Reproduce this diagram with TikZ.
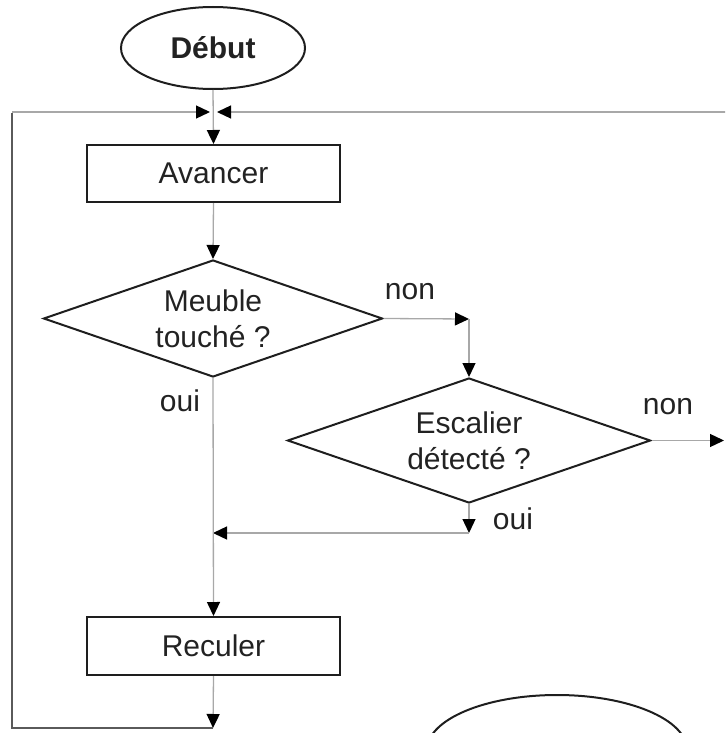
\documentclass[tikz,border=0pt]{standalone}
\usepackage{fontspec}
\setmainfont{Liberation Sans}
\usetikzlibrary{arrows.meta,shapes.geometric}
\definecolor{conn}{HTML}{A8A8A8}
\definecolor{edge}{HTML}{1E1E1E}
\definecolor{loopc}{HTML}{5A5A5A}
\definecolor{txt}{HTML}{222222}
\tikzset{
  every node/.style={text=txt, font=\fontsize{30}{36}\selectfont},
  tipa/.style={-{Triangle[length=14pt,width=13pt,color=black]}},
  connline/.style={draw=conn, line width=1.3pt, tipa},
  boxs/.style={draw=edge, line width=2pt, rectangle, inner sep=0pt},
  decs/.style={draw=edge, line width=2pt, diamond, inner sep=0pt, shape aspect=2.9, align=center},
  ovals/.style={draw=edge, line width=2pt, ellipse, inner sep=0pt},
  lbl/.style={inner sep=0pt},
}
\begin{document}
\begin{tikzpicture}[x=1pt,y=-1pt]
\useasboundingbox (0,0) rectangle (725,733);
\clip (0,0) rectangle (725,733);
% shapes
\node[ovals, minimum width=184pt, minimum height=82pt, font=\fontsize{30}{36}\selectfont\bfseries] (debut) at (213,48) {Début};
\node[boxs, minimum width=253pt, minimum height=57pt] (avancer) at (213.5,173.5) {Avancer};
\node[decs, minimum width=339pt, minimum height=117pt] (d1) at (213,318.5) {Meuble\\touché ?};
\node[decs, minimum width=363pt, minimum height=125pt] (d2) at (469,440.5) {Escalier\\détecté ?};
\node[boxs, minimum width=253pt, minimum height=58pt] (reculer) at (213.5,646) {Reculer};
\node[ovals, minimum width=260pt, minimum height=110pt] (fin) at (557,750) {};
% junction coordinates
\coordinate (jL) at (210,112);
\coordinate (jR) at (217,112);
\coordinate (cL) at (12,112);
\coordinate (cR) at (726,112);
\coordinate (c1) at (469,319);
\coordinate (c2) at (469,533);
\coordinate (c3) at (213,533);
\coordinate (c4) at (213,728);
\coordinate (c4l) at (12,728);
\coordinate (c5) at (724,440.5);
% connectors
\draw[connline] (debut.south) -- (avancer.north);
\draw[connline] (avancer.south) -- (d1.north);
\draw[connline] (d1.east) -- (c1);
\draw[connline] (c1) -- (d2.north);
\draw[connline] (d2.east) -- (c5);
\draw[connline] (d2.south) -- (c2);
\draw[connline] (c2) -- (c3);
\draw[connline] (d1.south) -- (reculer.north);
\draw[connline] (reculer.south) -- (c4);
\draw[draw=loopc, line width=2.2pt] (c4) -- (c4l) -- ([yshift=-1pt]cL);
\draw[connline] (cL) -- (jL);
\draw[connline] (cR) -- (jR);
% labels
\node[lbl] (non1) at (410,292) {non};
\node[lbl] (oui1) at (180,401) {oui};
\node[lbl] (non2) at (668,407) {non};
\node[lbl] (oui2) at (513,519) {oui};
\end{tikzpicture}
\end{document}
